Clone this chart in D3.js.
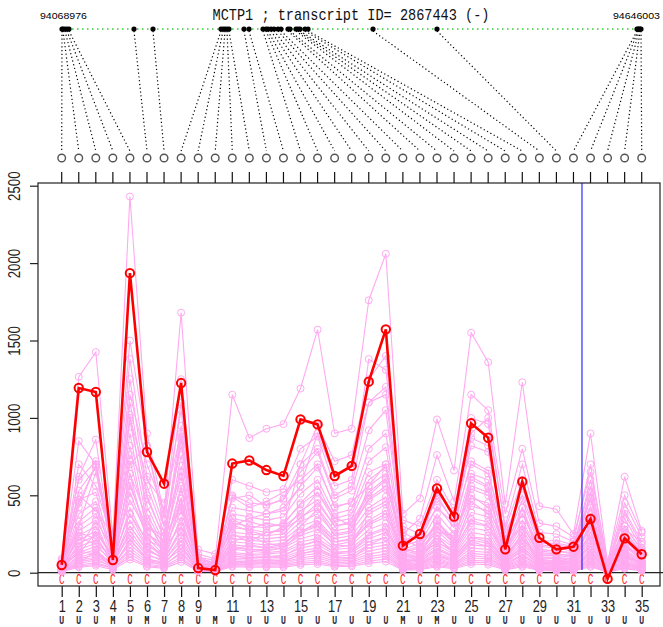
<!DOCTYPE html>
<html><head><meta charset="utf-8">
<script src="https://cdn.jsdelivr.net/npm/d3@7"></script>
<style>body{margin:0;background:#fff}svg{display:block}</style>
</head><body>
<svg id="c" width="663" height="627"></svg>
<script>
const title = "MCTP1 ; transcript ID= 2867443 (-)";
const geneStart = 94068976, geneEnd = 94646003;
const probeIds = [1,2,3,4,5,6,7,8,9,10,11,12,13,14,15,16,17,18,19,20,21,22,23,24,25,26,27,28,29,30,31,32,33,34,35];
const tickLabels = ["1","2","3","4","5","6","7","8","9","","11","","13","","15","","17","","19","","21","","23","","25","","27","","29","","31","","33","","35"];
const probeTypes = ["U","U","U","M","U","M","U","M","U","M","U","U","U","U","U","U","U","U","U","U","M","U","M","U","U","U","U","U","U","U","U","U","U","U","U"];
const probeGenomicPos = [94068976,94069973,94071966,94073959,94075952,94140731,94159667,94227435,94229429,94231422,94233415,94235408,94250357,94255340,94269293,94272282,94274276,94277265,94280255,94284241,94287231,94294207,94296200,94302180,94304173,94306166,94311149,94314139,94378919,94442701,94642013,94643010,94644007,94645003,94646003];
const yTicks = [0,500,1000,1500,2000,2500];
const markerLabel = "C";

const redSeries = [50,1193,1167,82,1935,780,575,1225,30,17,705,725,663,625,990,958,625,690,1234,1572,175,250,545,362,965,872,151,588,226,151,168,347,-40,222,119];

const pinkSeries = [
[90,1265,1425,230,2430,900,380,1680,120,90,1150,870,930,960,1190,1570,900,930,1760,2060,380,480,990,660,1550,1360,440,1230,430,410,250,900,60,620,270],
[40,850,700,150,1380,620,300,1100,80,60,600,560,520,540,800,880,560,600,1380,1310,340,300,600,400,1000,960,300,700,260,250,200,700,40,450,230],
[30,620,860,100,1250,500,220,950,50,40,480,500,430,480,700,800,500,560,1100,1150,200,260,480,330,870,820,220,560,200,180,160,600,30,380,180],
[60,600,720,130,1100,480,230,880,70,50,500,450,440,470,650,780,480,530,920,1050,200,240,500,320,820,780,210,560,190,190,170,560,50,350,160],
[45,530,680,110,980,430,190,860,55,50,420,400,380,400,560,680,430,450,800,900,170,210,430,290,720,660,190,470,170,160,140,480,40,300,140],
[40,470,520,100,1020,380,170,690,50,40,380,360,340,360,510,600,380,410,720,810,150,190,380,250,640,600,170,420,150,140,130,430,35,270,130],
[70,420,700,180,760,560,260,820,90,60,350,330,300,310,450,560,350,380,650,700,140,170,330,220,560,520,150,380,140,130,200,380,50,250,120],
[35,380,460,90,900,330,150,760,45,35,320,300,290,320,440,520,330,350,600,680,130,160,320,210,540,500,140,340,120,120,110,360,30,230,110],
[50,330,420,120,720,300,200,620,60,45,290,280,260,270,400,470,300,330,520,610,120,140,290,190,480,450,130,310,110,110,100,320,30,210,100],
[30,300,380,80,640,350,140,560,40,30,260,250,240,250,360,420,270,290,470,540,110,130,270,170,430,400,120,280,100,100,90,290,25,190,90],
[55,270,340,150,580,250,180,480,60,50,240,230,220,230,330,380,250,270,420,490,100,120,240,160,390,360,110,250,90,90,80,260,25,170,80],
[25,240,300,70,520,230,110,450,35,30,220,210,200,210,300,340,220,240,380,440,90,110,220,140,350,330,100,230,80,80,75,230,20,150,75],
[40,210,270,110,470,260,150,400,50,40,200,190,180,190,270,310,200,220,340,400,80,100,200,130,320,300,90,210,75,75,70,210,20,140,70],
[20,190,240,60,420,190,90,360,30,25,180,170,160,170,240,280,180,200,310,360,75,90,180,120,290,270,80,190,70,65,60,190,18,120,60],
[35,170,210,90,380,170,120,330,40,35,160,150,150,160,220,250,160,180,280,320,70,85,160,110,260,240,70,170,60,60,55,170,15,110,55],
[20,150,190,55,340,160,80,290,25,20,150,140,130,140,200,220,150,160,250,290,60,75,150,100,230,220,65,150,55,50,50,150,15,100,50],
[30,130,170,80,300,140,100,260,35,30,130,120,120,130,180,200,130,140,220,260,55,65,130,90,210,190,60,140,50,45,45,130,12,90,45],
[15,115,150,45,270,120,70,230,20,18,120,110,105,110,160,180,120,130,200,230,50,60,120,80,180,170,55,120,45,40,40,120,10,80,40],
[25,100,130,65,240,110,85,200,30,25,105,100,95,100,140,160,105,115,180,200,45,55,105,70,160,150,50,110,40,35,35,110,10,70,35],
[12,90,115,40,210,95,55,180,18,15,95,90,85,90,125,140,95,100,160,180,40,50,95,60,140,130,45,95,35,30,30,95,8,60,30],
[20,80,100,50,185,85,70,155,25,20,85,80,75,80,110,125,85,90,140,160,35,45,85,55,125,115,40,85,30,28,28,85,8,55,28],
[10,70,90,35,160,75,45,135,15,12,75,70,65,70,95,110,75,80,120,140,30,40,75,50,110,100,35,75,28,25,25,75,6,50,25],
[15,60,80,40,140,65,55,120,20,15,65,60,58,60,85,95,65,70,105,120,28,35,65,45,95,90,30,65,25,22,22,65,6,45,22],
[8,50,65,30,120,55,40,100,12,10,55,52,50,52,72,80,55,60,90,105,25,30,55,38,80,75,26,55,20,18,18,55,5,38,18],
[12,42,55,30,100,45,35,85,15,12,45,44,42,44,60,68,46,50,75,88,20,25,46,32,68,64,22,46,18,16,16,46,4,32,16],
[6,35,45,20,85,38,28,70,10,8,38,36,35,36,50,56,38,42,62,72,16,20,38,26,56,52,18,38,14,12,12,38,3,26,12],
[50,300,650,150,700,820,300,650,100,60,490,420,460,520,600,700,420,460,560,640,300,250,420,320,700,640,260,500,200,210,180,480,60,400,200],
[30,450,690,90,1150,700,400,1050,60,50,300,350,380,420,560,900,620,680,1100,1200,260,200,520,380,900,1000,280,600,180,170,150,520,40,300,150],
[20,700,560,200,1500,820,350,1250,100,80,350,280,320,300,700,950,720,760,1250,1400,250,350,760,460,1150,1050,380,800,320,300,230,650,70,500,260],
[80,500,400,250,1000,600,450,900,150,120,250,200,260,280,350,450,300,320,500,600,180,200,300,200,600,550,200,380,150,140,120,420,20,280,200],
[45,160,330,60,560,290,240,420,70,55,310,270,240,300,380,520,360,300,480,560,220,160,260,240,500,420,180,300,130,120,110,300,45,230,140],
[25,230,180,120,820,260,130,540,40,30,200,240,190,170,300,410,240,260,560,700,120,90,340,180,620,560,90,420,90,70,60,520,20,180,90],
[60,120,260,100,380,210,160,300,80,70,140,180,160,190,260,330,200,210,320,380,150,130,190,150,340,300,120,220,100,90,90,240,35,160,120],
[18,260,220,70,640,200,100,480,25,20,170,150,140,160,260,300,180,170,400,460,70,80,240,120,460,380,70,260,60,55,50,330,10,130,60],
[35,140,120,60,300,150,90,260,45,35,110,95,100,110,170,210,130,140,240,280,90,70,150,100,230,200,80,160,70,60,65,170,25,100,70],
[10,60,140,25,220,80,60,180,10,8,60,70,80,70,120,150,100,90,180,230,40,55,110,80,200,170,50,120,40,35,30,140,5,70,35]
];

const svg = d3.select("#c");
const box = {l:38, t:183, r:660, b:586};
const x = d3.scaleLinear().domain([1,35]).range([61.7,641.7]);
const y = d3.scaleLinear().domain([0,2500]).range([572.7,185.7]);
const gx = d3.scaleLinear().domain([geneStart,geneEnd]).range([62,641]);
const pink = "#ffaaf0";

// title & gene coordinates
svg.append("text").attr("x",351).attr("y",20).attr("text-anchor","middle")
  .attr("font-family","Liberation Mono, DejaVu Sans Mono, monospace").attr("font-size",17)
  .attr("textLength",277).attr("lengthAdjust","spacingAndGlyphs").attr("fill","#111").text(title);
svg.append("text").attr("x",40).attr("y",19).attr("font-family","Liberation Sans, sans-serif")
  .attr("font-size",9).attr("textLength",47).attr("lengthAdjust","spacingAndGlyphs").text(geneStart);
svg.append("text").attr("x",613).attr("y",19).attr("font-family","Liberation Sans, sans-serif")
  .attr("font-size",9).attr("textLength",47).attr("lengthAdjust","spacingAndGlyphs").text(geneEnd);

// gene line
svg.append("line").attr("x1",gx(geneStart)).attr("x2",gx(geneEnd)).attr("y1",29).attr("y2",29)
  .attr("stroke","#33cc33").attr("stroke-width",1.5).attr("stroke-dasharray","1.5,3.5");

// connectors
svg.append("g").selectAll("line").data(probeIds).join("line")
  .attr("x1",(d,i)=>gx(probeGenomicPos[i])).attr("y1",31)
  .attr("x2",d=>x(d)).attr("y2",151)
  .attr("stroke","#000").attr("stroke-width",1.2).attr("stroke-dasharray","1.2,2.6");
svg.append("g").selectAll("circle").data(probeGenomicPos).join("circle")
  .attr("cx",d=>gx(d)).attr("cy",29).attr("r",2.6).attr("fill","#000");
svg.append("g").selectAll("circle").data(probeIds).join("circle")
  .attr("cx",d=>x(d)).attr("cy",158).attr("r",3.8).attr("fill","#fff")
  .attr("stroke","#555").attr("stroke-width",1.4);

// top ticks
svg.append("g").selectAll("line").data(probeIds).join("line")
  .attr("x1",d=>x(d)).attr("x2",d=>x(d)).attr("y1",172).attr("y2",box.t)
  .attr("stroke","#111").attr("stroke-width",1.2);

// y axis
const ya = svg.append("g").attr("transform",`translate(${box.l},0)`)
  .call(d3.axisLeft(y).tickValues(yTicks).tickSize(8).tickSizeOuter(0).tickFormat(d3.format("d")));
ya.select(".domain").remove();
ya.selectAll("line").attr("stroke","#222").attr("stroke-width",1.2);
ya.selectAll("text").attr("x",0).attr("y",0).attr("dy",null)
  .attr("transform","translate(-18,0) rotate(-90) scale(0.78,1)")
  .attr("text-anchor","middle").attr("font-size",17)
  .attr("font-family","Liberation Sans, sans-serif").attr("fill","#222");

// x axis
const xa = svg.append("g").attr("transform",`translate(0,${box.b})`)
  .call(d3.axisBottom(x).tickValues(probeIds).tickSize(11).tickSizeOuter(0).tickFormat((d,i)=>tickLabels[i]));
xa.select(".domain").remove();
xa.selectAll("line").attr("stroke","#111").attr("stroke-width",1.2);
xa.selectAll("text").attr("y",0).attr("dy",null)
  .attr("transform","translate(0,26) scale(0.8,1)")
  .attr("font-size",16).attr("font-family","Liberation Sans, sans-serif").attr("fill","#222");

// probe type labels
svg.append("g").selectAll("text").data(probeTypes).join("text")
  .attr("transform",(d,i)=>`translate(${x(probeIds[i])},624) scale(0.8,1)`)
  .attr("text-anchor","middle").attr("font-size",10).attr("font-weight","bold")
  .attr("font-family","DejaVu Sans Mono, monospace")
  .attr("fill",d=>d==="M"?"#221a10":"#2a2a44").text(d=>d);

// C labels
svg.append("g").selectAll("text").data(probeIds).join("text")
  .attr("transform",d=>`translate(${x(d)},584) scale(0.62,1)`)
  .attr("text-anchor","middle").attr("font-size",15)
  .attr("font-family","Liberation Mono, monospace").attr("fill","#ff2020").text(markerLabel);

// box and zero line
svg.append("rect").attr("x",box.l).attr("y",box.t).attr("width",box.r-box.l).attr("height",box.b-box.t)
  .attr("fill","none").attr("stroke","#222").attr("stroke-width",1.2);
svg.append("line").attr("x1",box.l).attr("x2",663).attr("y1",y(0)).attr("y2",y(0))
  .attr("stroke","#222").attr("stroke-width",1.2);

// pink series
const line = d3.line().x((d,i)=>x(probeIds[i])).y(d=>y(d));
const pg = svg.append("g");
pinkSeries.forEach(s=>{
  pg.append("path").attr("d",line(s)).attr("fill","none").attr("stroke",pink).attr("stroke-width",1.1);
  pg.append("g").selectAll("circle").data(s).join("circle")
    .attr("cx",(d,i)=>x(probeIds[i])).attr("cy",d=>y(d)).attr("r",3.5)
    .attr("fill","none").attr("stroke",pink).attr("stroke-width",1);
});

// blue separator
svg.append("line").attr("x1",x(31.5)).attr("x2",x(31.5)).attr("y1",box.t).attr("y2",570)
  .attr("stroke","#0000ff").attr("stroke-width",1);

// red series
svg.append("path").attr("d",line(redSeries)).attr("fill","none").attr("stroke","#ff0000").attr("stroke-width",2.6);
svg.append("g").selectAll("circle").data(redSeries).join("circle")
  .attr("cx",(d,i)=>x(probeIds[i])).attr("cy",d=>y(d)).attr("r",4.2)
  .attr("fill","none").attr("stroke","#ff0000").attr("stroke-width",2);
</script>
</body></html>
